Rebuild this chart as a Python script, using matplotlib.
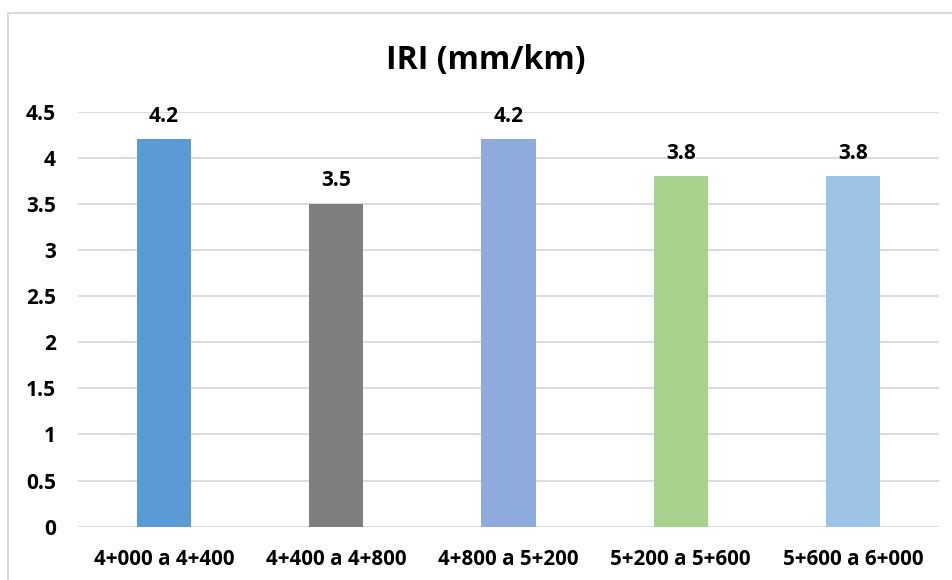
import matplotlib
matplotlib.use("Agg")
import matplotlib.pyplot as plt
from matplotlib.patches import Rectangle

categories = ["4+000 a 4+400", "4+400 a 4+800", "4+800 a 5+200", "5+200 a 5+600", "5+600 a 6+000"]
values = [4.2, 3.5, 4.2, 3.8, 3.8]
bar_colors = ["#5B9BD5", "#7F7F7F", "#8FAADC", "#A9D18E", "#9DC3E6"]
yticks = [0, 0.5, 1, 1.5, 2, 2.5, 3, 3.5, 4, 4.5]
ytick_labels = ["0", "0.5", "1", "1.5", "2", "2.5", "3", "3.5", "4", "4.5"]
title = "IRI (mm/km)"

plt.rcParams['font.family'] = ['Open Sans', 'DejaVu Sans']
W, H = 953, 580
fig = plt.figure(figsize=(W/100, H/100), dpi=100)
fig.patch.set_facecolor("white")

# outer chart border (left/top visible)
fig.patches.append(Rectangle((8/W, -0.1), 1.2, (H-13)/H + 0.1, transform=fig.transFigure,
                             fill=False, edgecolor="#D9D9D9", linewidth=1.5))

ax = fig.add_axes([78/W, (H-526.7)/H, (939-78)/W, (526.7-111.7)/H])
x = list(range(len(categories)))
bars = ax.bar(x, values, width=0.314, color=bar_colors, zorder=3)
ax.set_xlim(-0.5, len(categories)-0.5)
ax.set_ylim(0, 4.5)
ax.set_yticks(yticks)
ax.set_yticklabels(ytick_labels, fontsize=15, fontweight="bold")
ax.set_xticks(x)
ax.set_xticklabels(categories, fontsize=14.8, fontweight="bold")
ax.tick_params(axis="y", length=0, pad=16)
ax.tick_params(axis="x", length=0, pad=16)
ax.grid(axis="y", color="#D9D9D9", linewidth=1.3, zorder=0)
for s in ax.spines.values():
    s.set_visible(False)

for xi, v in zip(x, values):
    ax.annotate(f"{v:g}", (xi, v), xytext=(0, 23*0.72), textcoords="offset points",
                ha="center", va="center", fontsize=15, fontweight="bold")

fig.text(486/W, 1 - 60/H, title, ha="center", va="center", fontsize=23, fontweight="bold")

fig.savefig("out.png", dpi=100)
